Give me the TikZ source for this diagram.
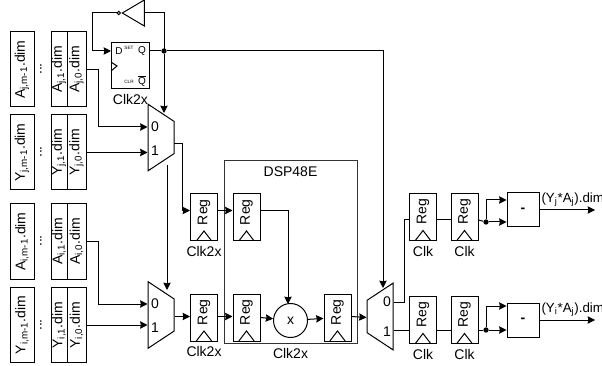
\documentclass[tikz,border=0pt]{standalone}
\usepackage{fontspec}
\setmainfont{Liberation Sans}
\usetikzlibrary{shapes,arrows,arrows.meta,positioning,calc}
\newcommand{\vtext}[1]{\rotatebox{90}{#1}}

\begin{document}
\begin{tikzpicture}[
  x=0.75pt, y=-0.75pt,
  node distance=0pt,
  font=\fontsize{10.5pt}{12pt}\selectfont,
  line width=0.75pt,
  dimbox/.style={rectangle, draw=black, minimum height=56.25pt, inner sep=0pt},
  wideb/.style={dimbox, minimum width=18pt},
  narrowb/.style={dimbox, minimum width=12pt},
  midb/.style={dimbox, minimum width=14.25pt},
  regbox/.style={rectangle, draw=black, minimum width=20.25pt, minimum height=35.25pt, inner sep=0pt,
    path picture={\draw ($(path picture bounding box.south)+(-5.75pt,0)$) -- ($(path picture bounding box.south)+(0,7.5pt)$) -- ($(path picture bounding box.south)+(5.75pt,0)$);}},
  subbox/.style={rectangle, draw=black, minimum width=24pt, minimum height=25.5pt, font=\fontsize{10.5pt}{12pt}\selectfont\bfseries},
  muxbox/.style={trapezium, draw=black, trapezium left angle=62, trapezium right angle=62, trapezium stretches=true, minimum width=50pt, minimum height=19.5pt, inner sep=2pt},
  muxleft/.style={muxbox, shape border rotate=270},
  muxright/.style={muxbox, shape border rotate=90},
  inv/.style={isosceles triangle, draw=black, shape border rotate=180, isosceles triangle stretches=true, minimum width=19.5pt, minimum height=16.5pt, inner sep=0pt, anchor=apex},
  dot/.style={circle, fill=black, inner sep=0pt, minimum size=4pt},
  arrow/.style={-{Stealth[length=5.5pt,width=5.5pt,inset=0.5pt]}},
  tiny label/.style={font=\fontsize{3.5pt}{4pt}\selectfont, inner sep=0pt},
  small label/.style={font=\fontsize{7.5pt}{9pt}\selectfont, inner sep=0pt},
  out label/.style={anchor=west, inner sep=0pt, font=\fontsize{10pt}{12pt}\selectfont}
]
  \clip (0,0) rectangle (602,366);
  % operand columns
  \node[wideb] (ajm) at (22,69.5) {\vtext{A\textsubscript{j,m-1}.dim}};
  \node[narrowb] (aj1) at (59,69.5) {\vtext{A\textsubscript{j,1}.dim}};
  \node[midb] (aj0) at (76.5,69.5) {\vtext{A\textsubscript{j,0}.dim}};
  \node (ajdots) at (41,69) {\vtext{...}};
  \node[wideb] (yjm) at (22,152.5) {\vtext{Y\textsubscript{j,m-1}.dim}};
  \node[narrowb] (yj1) at (59,152.5) {\vtext{Y\textsubscript{j,1}.dim}};
  \node[midb] (yj0) at (76.5,152.5) {\vtext{Y\textsubscript{j,0}.dim}};
  \node (yjdots) at (41,152) {\vtext{...}};
  \node[wideb] (aim) at (22,241.5) {\vtext{A\textsubscript{i,m-1}.dim}};
  \node[narrowb] (ai1) at (59,241.5) {\vtext{A\textsubscript{i,1}.dim}};
  \node[midb] (ai0) at (76.5,241.5) {\vtext{A\textsubscript{i,0}.dim}};
  \node (aidots) at (41,241) {\vtext{...}};
  \node[wideb] (yim) at (22,325) {\vtext{Y\textsubscript{i,m-1}.dim}};
  \node[narrowb] (yi1) at (59,325) {\vtext{Y\textsubscript{i,1}.dim}};
  \node[midb] (yi0) at (76.5,325) {\vtext{Y\textsubscript{i,0}.dim}};
  \node (yidots) at (41,325) {\vtext{...}};
  % toggle flip-flop
  \node[rectangle, draw=black, minimum width=28.5pt, minimum height=34.5pt] (ff) at (130.5,66) {};
  \node[small label] (ffd) at (119,51) {D};
  \node[small label] (ffq) at (142,51) {Q};
  \node[small label] (ffqb) at (142,81) {$\overline{\mbox{Q}}$};
  \node[tiny label] (ffset) at (129,48) {SET};
  \node[tiny label] (ffclr) at (129,82) {CLR};
  \node[below=0pt of ff] (ffclk) {Clk2x};
  \draw (ff.west)+(0,-4) -- +(6,0) -- +(0,5);
  \node[inv] (not) at (121,13) {};
  \node[circle, draw=black, fill=white, inner sep=0pt, minimum size=2.5pt, left=0pt of not.apex] (bubble) {};
  \node[dot] (qdot) at (164,51) {};
  \draw (not.east) -| (qdot.center);
  \draw[arrow] (bubble.west) -- (92,13) |- (ff.west |- ffd);
  \draw (ff.east |- ffq) -- (qdot);
  % input muxes
  \node[muxleft] (mux1) at (161,137.5) {};
  \node (mux1a) at (155,127) {0};
  \node (mux1b) at (155,151) {1};
  \node[muxleft] (mux2) at (161,315) {};
  \node (mux2a) at (155,304) {0};
  \node (mux2b) at (155,328) {1};
  \coordinate (mux1sel) at (164,113);
  \coordinate (mux1low) at (167,165);
  \coordinate (mux1out) at (174,144);
  \coordinate (mux2sel) at (167,290);
  \draw[arrow] (qdot) -- (mux1sel);
  \draw[arrow] (mux1low) -- (mux2sel);
  \draw[arrow] (aj0.east) -- ++(12,0) |- (mux1.west |- mux1a);
  \draw[arrow] (yj0.east) -- (mux1.west |- yj0.east);
  \draw[arrow] (ai0.east) -- ++(12,0) |- (mux2.west |- mux2a);
  \draw[arrow] (yi0.east) -- (mux2.west |- yi0.east);
  % registers and multiplier
  \node[rectangle, draw=black!80, minimum width=99.75pt, minimum height=136.5pt] (dsp) at (290.5,252) {};
  \node[below=1pt of dsp.north] (dsptitle) {DSP48E};
  \node[below=0pt of dsp.south] (dspclk) {Clk2x};
  \node[regbox] (rega) at (204,217.5) {\vtext{\hspace{8pt}Reg}};
  \node[regbox] (regb) at (204,317.5) {\vtext{\hspace{8pt}Reg}};
  \node[below=0pt of rega] (regaclk) {Clk2x};
  \node[below=0pt of regb] (regbclk) {Clk2x};
  \node[regbox] (regc) at (246.5,217.5) {\vtext{\hspace{8pt}Reg}};
  \node[regbox] (regd) at (246.5,317.5) {\vtext{\hspace{8pt}Reg}};
  \node[regbox] (rege) at (337.5,317.5) {\vtext{\hspace{8pt}Reg}};
  \node[circle, draw=black, minimum size=25.5pt, inner sep=0pt] (mul) at (290.5,320.5) {x};
  \draw[arrow] (mux1out) -- (182,144) |- ([yshift=5.25pt]rega.west);
  \draw[arrow] (mux2.east |- regb) ++(0,-1) -- ([yshift=0.75pt]regb.west);
  \draw[arrow] ([yshift=5.25pt]rega.east) -- ([yshift=5.25pt]regc.west);
  \draw[arrow] ([yshift=0.75pt]regb.east) -- ([yshift=0.75pt]regd.west);
  \draw[arrow] ([yshift=5.25pt]regc.east) -| (288,304);
  \draw[arrow] (regd.east) -- (mul);
  \draw[arrow] (mul) -- (rege);
  % output mux and pipeline
  \node[muxright] (mux3) at (380,316.5) {};
  \node (mux3a) at (387,302) {0};
  \node (mux3b) at (387,332) {1};
  \coordinate (mux3sel) at (383,288);
  \draw[arrow] (qdot) -- (383,51) -- (mux3sel);
  \draw[arrow] ([yshift=0.75pt]rege.east) -- (mux3.west |- rege);
  \node[regbox] (regf) at (423,217) {\vtext{\hspace{8pt}Reg}};
  \node[regbox] (regg) at (464.5,217) {\vtext{\hspace{8pt}Reg}};
  \node[regbox] (regh) at (423,320) {\vtext{\hspace{8pt}Reg}};
  \node[regbox] (regi) at (464.5,320) {\vtext{\hspace{8pt}Reg}};
  \node[below=0pt of regf] (regfclk) {Clk};
  \node[below=0pt of regg] (reggclk) {Clk};
  \node[below=0pt of regh] (reghclk) {Clk};
  \node[below=0pt of regi] (regiclk) {Clk};
  \draw (mux3.east |- mux3a) -- ++(11,0) |- ([yshift=-2.25pt]regf.west);
  \draw (mux3.east |- regh.west) ++(0,10) -- ([yshift=-7.5pt]regh.west);
  \draw ([yshift=-2.25pt]regf.east) -- ([yshift=-2.25pt]regg.west);
  \draw ([yshift=-7.5pt]regh.east) -- ([yshift=-7.5pt]regi.west);
  \node[subbox] (suba) at (523,210) {-};
  \node[subbox] (subb) at (523,320) {-};
  \node[dot] (adot) at (486,222) {};
  \node[dot] (bdot) at (486,330) {};
  \draw ([yshift=-2.25pt]regg.east) -- (adot);
  \draw ([yshift=-7.5pt]regi.east) -- (bdot);
  \draw[arrow] (adot) -- (486,200) -- ([yshift=7.5pt]suba.west);
  \draw[arrow] (adot) -- (suba.west |- adot);
  \draw[arrow] (bdot) -- (486,306) -- ([yshift=10.5pt]subb.west);
  \draw[arrow] (bdot) -- (subb.west |- bdot);
  \coordinate (outa) at (595,210);
  \coordinate (outb) at (595,320);
  \draw[arrow] (suba.east) -- (outa);
  \draw[arrow] (subb.east) -- (outb);
  \node[out label] (outalabel) at (541,200) {(Y\textsubscript{j}*A\textsubscript{j}).dim};
  \node[out label] (outblabel) at (541,310) {(Y\textsubscript{i}*A\textsubscript{j}).dim};
\end{tikzpicture}
\end{document}
